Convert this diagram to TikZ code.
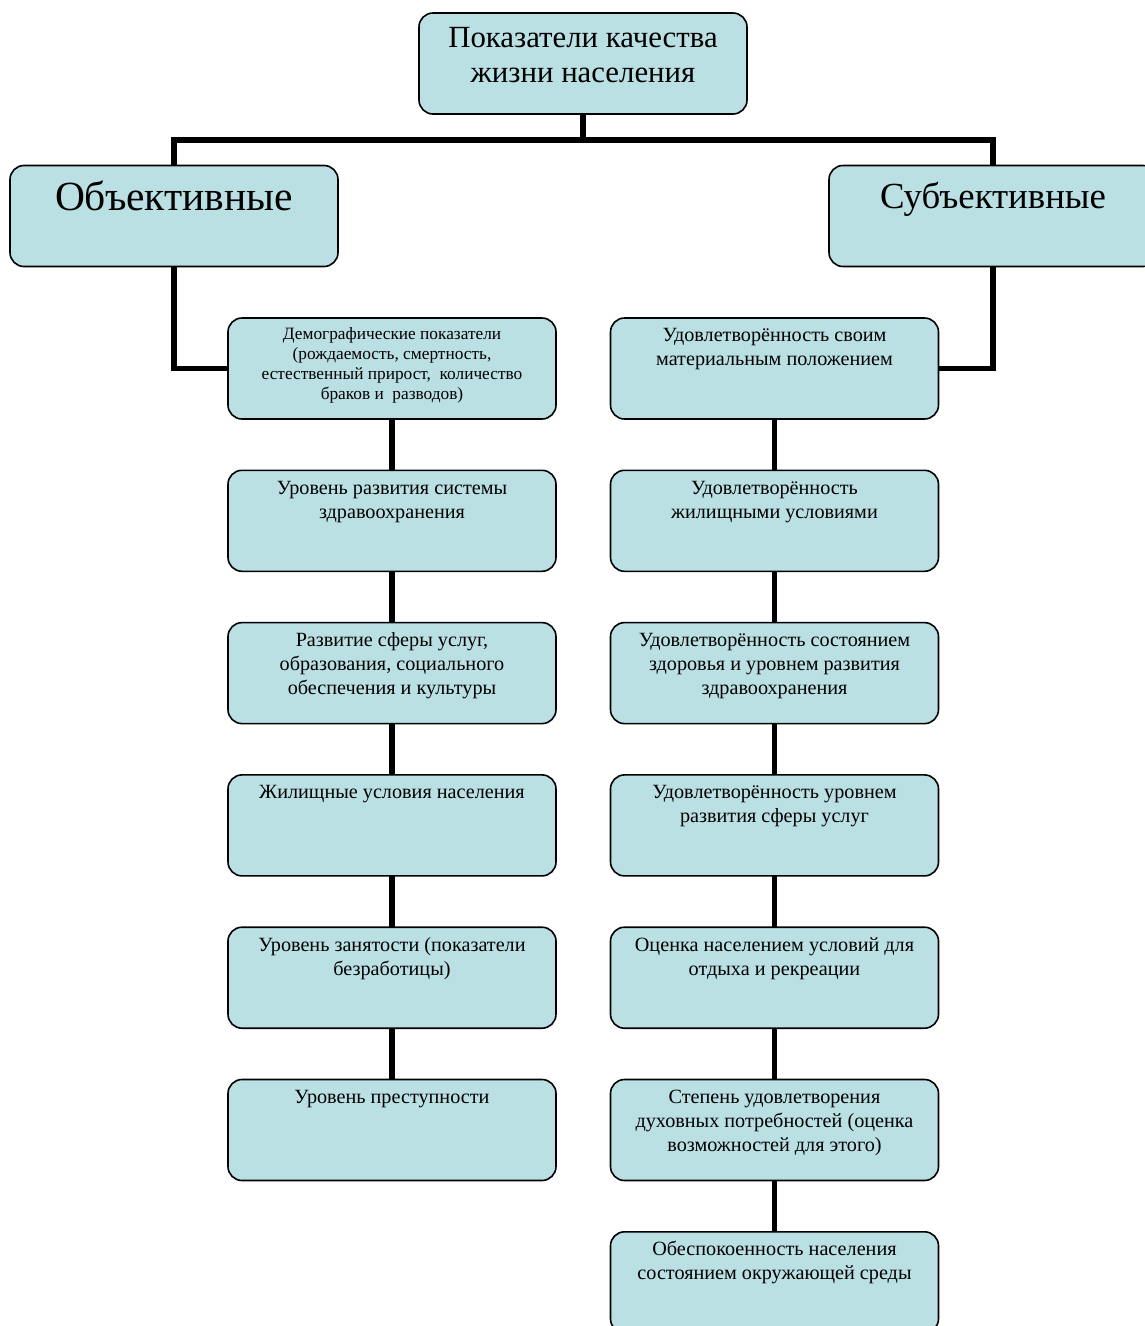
\documentclass[tikz,border=0pt]{standalone}
\usepackage{fontspec}
\setmainfont{Liberation Serif}
\usetikzlibrary{positioning}
\definecolor{boxfill}{RGB}{186,224,228}
\newcommand{\boxtext}[2][87pt]{\parbox[c][#1][t]{318pt}{\centering\strut #2}}
\tikzset{
  box/.style={draw,line width=1.6pt,fill=boxfill,rounded corners=14pt,minimum width=328pt,minimum height=101pt,inner sep=0pt,outer sep=0pt},
  link/.style={line width=5.5pt,line join=miter},
  small/.style={font=\fontsize{20.2}{24}\selectfont},
}
\begin{document}
\begin{tikzpicture}[x=1pt,y=-1pt]
\useasboundingbox (0,0) rectangle (1145,1326);
\node[box,font=\fontsize{30.8}{35}\selectfont](NTop) at (583,63.5){\boxtext[82pt]{Показатели качества\\жизни населения}};
\node[box,font=\fontsize{41.5}{46}\selectfont](NObj) at (174,216){\boxtext[76pt]{Объективные}};
\node[box,font=\fontsize{36.8}{46}\selectfont](NSubj) at (993,216){\boxtext[80pt]{Субъективные}};
% left column
\node[box,font=\fontsize{17.3}{20}\selectfont](NL1) at (392,368.5){\boxtext{Демографические показатели\\(рождаемость, смертность,\\естественный прирост,~ количество\\браков и~ разводов)}};
\node[box,small,below=51.3pt of NL1](NL2){\boxtext{Уровень развития системы\\здравоохранения}};
\node[box,small,below=51.3pt of NL2](NL3){\boxtext{Развитие сферы услуг,\\образования, социального\\обеспечения и культуры}};
\node[box,small,below=51.3pt of NL3](NL4){\boxtext{Жилищные условия населения}};
\node[box,small,below=51.3pt of NL4](NL5){\boxtext{Уровень занятости (показатели\\безработицы)}};
\node[box,small,below=51.3pt of NL5](NL6){\boxtext{Уровень преступности}};
% right column
\node[box,small](NR1) at (774.5,368.5){\boxtext{Удовлетворённость своим\\материальным положением}};
\node[box,small,below=51.3pt of NR1](NR2){\boxtext{Удовлетворённость\\жилищными условиями}};
\node[box,small,below=51.3pt of NR2](NR3){\boxtext{Удовлетворённость состоянием\\здоровья и уровнем развития\\здравоохранения}};
\node[box,small,below=51.3pt of NR3](NR4){\boxtext{Удовлетворённость уровнем\\развития сферы услуг}};
\node[box,small,below=51.3pt of NR4](NR5){\boxtext{Оценка населением условий для\\отдыха и рекреации}};
\node[box,small,below=51.3pt of NR5](NR6){\boxtext{Степень удовлетворения\\духовных потребностей (оценка\\возможностей для этого)}};
\node[box,small,below=51.3pt of NR6](NR7){\boxtext{Обеспокоенность населения\\состоянием окружающей среды}};
% connectors
\coordinate (NBar) at (583,140);
\draw[link] (NTop) -- (NBar);
\draw[link] (NObj) |- (NBar) -| (NSubj);
\draw[link] (NObj) |- (NL1);
\draw[link] (NSubj) |- (NR1);
\foreach \a/\b in {NL1/NL2,NL2/NL3,NL3/NL4,NL4/NL5,NL5/NL6,NR1/NR2,NR2/NR3,NR3/NR4,NR4/NR5,NR5/NR6,NR6/NR7}
  \draw[link] (\a) -- (\b);
\end{tikzpicture}
\end{document}
